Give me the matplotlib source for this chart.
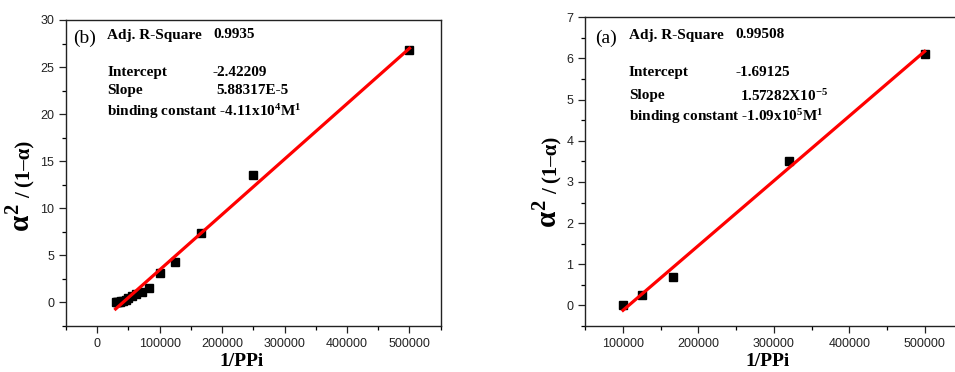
import matplotlib
matplotlib.use("Agg")
import matplotlib.pyplot as plt
import numpy as np

plt.rcParams['mathtext.fontset'] = 'custom'
plt.rcParams['mathtext.rm'] = 'Liberation Serif:bold'
plt.rcParams['mathtext.it'] = 'Liberation Serif:bold'
plt.rcParams['mathtext.bf'] = 'Liberation Serif:bold'

# ---- data: panel (b)
b_x = [500000, 250000, 166667, 125000, 100000, 83333, 71429, 62500, 55556,
       50000, 45455, 41667, 38462, 35714, 33333, 31250, 29412]
b_y = [26.8, 13.5, 7.4, 4.35, 3.1, 1.55, 1.1, 0.9, 0.65,
       0.45, 0.3, 0.2, 0.12, 0.07, 0.04, 0.02, 0.0]
b_intercept = -2.42209
b_slope = 5.88317e-5

# ---- data: panel (a)
a_x = [100000, 125000, 166667, 320000, 500000]
a_y = [0.0, 0.25, 0.7, 3.5, 6.1]
a_intercept = -1.69125
a_slope = 1.57282e-5

b_xticks = [0, 100000, 200000, 300000, 400000, 500000]
b_yticks = [0, 5, 10, 15, 20, 25, 30]
a_xticks = [100000, 200000, 300000, 400000, 500000]
a_yticks = [0, 1, 2, 3, 4, 5, 6, 7]

W, H = 955, 372
fig = plt.figure(figsize=(W / 100, H / 100), dpi=100)

def px(x, y):
    return x / W, 1 - y / H

def style(ax, xticks, yticks, xminor, yminor):
    ax.set_xticks(xticks)
    ax.set_yticks(yticks)
    ax.set_xticks(xminor, minor=True)
    ax.set_yticks(yminor, minor=True)
    ax.tick_params(which='major', direction='out', length=5, width=0.9,
                   labelsize=9, colors='#222222', top=False, right=False)
    ax.tick_params(which='minor', direction='out', length=3, width=0.9,
                   top=False, right=False)
    for lab in ax.get_xticklabels() + ax.get_yticklabels():
        lab.set_fontfamily('Liberation Sans')
    for s in ax.spines.values():
        s.set_linewidth(1.0)
        s.set_color('#222222')

serif = 'Liberation Serif'

# ---------------- Left panel (b)
ax1 = fig.add_axes([66 / W, 46 / H, (440.7 - 66) / W, (326 - 20) / H])
xf = np.array([min(b_x), max(b_x)])
ax1.plot(xf, b_intercept + b_slope * xf, color='#ff0000', lw=2.3, zorder=3)
ax1.plot(b_x, b_y, 's', color='black', ms=5.5, zorder=2)
ax1.set_xlim(-50000, 550000)
ax1.set_ylim(-2.5, 30)
style(ax1, b_xticks, b_yticks,
      np.arange(-50000, 550001, 50000), np.arange(-2.5, 30.01, 2.5))

# ---------------- Right panel (a)
ax2 = fig.add_axes([585.3 / W, 46 / H, (962.4 - 585.3) / W, (326 - 17.3) / H])
xf = np.array([min(a_x), max(a_x)])
ax2.plot(xf, a_intercept + a_slope * xf, color='#ff0000', lw=2.3, zorder=3)
ax2.plot(a_x, a_y, 's', color='black', ms=5.5, zorder=2)
ax2.set_xlim(50000, 550000)
ax2.set_ylim(-0.5, 7)
style(ax2, a_xticks, a_yticks,
      np.arange(50000, 550001, 50000), np.arange(-0.5, 7.01, 0.5))

# ---------------- annotations
fs = 11
def ann(x, y, s, **kw):
    d = dict(fontsize=fs, fontfamily=serif, fontweight='bold', va='center', ha='left')
    d.update(kw)
    fig.text(*px(x, y), s, **d)

ann(72.7, 38, '(b)', fontsize=14, fontweight='normal')
ann(107.3, 35, 'Adj. R-Square')
ann(213.3, 35, '0.9935')
ann(107.3, 72.7, 'Intercept')
ann(212.7, 72.7, '-2.42209')
ann(107.3, 90.7, 'Slope')
ann(216.7, 90.7, '5.88317E-5')
ann(107.3, 111.7, 'binding constant -4.11x10$^{4}$M$^{1}$')

ann(595, 38, '(a)', fontsize=14, fontweight='normal')
ann(629, 35, 'Adj. R-Square')
ann(735, 35, '0.99508')
ann(629, 72.7, 'Intercept')
ann(735, 72.7, '-1.69125')
ann(629, 96, 'Slope')
ann(740, 96, '1.57282X10$^{-5}$')
ann(629, 116.7, 'binding constant -1.09x10$^{5}$M$^{1}$')

# ---------------- axis labels
for cx in (242, 768):
    fig.text(*px(cx, 362), '1/PPi', fontsize=14, fontfamily=serif,
             fontweight='bold', ha='center', va='center')

for (lx, ybot) in ((22, 232), (549, 228)):
    fig.text(*px(lx, ybot), r'$\alpha^{2}$', fontsize=21, rotation=90,
             ha='center', va='bottom')
    fig.text(*px(lx + 4, ybot - 34), '/ (1\u2013\u03b1)', fontsize=15,
             fontfamily=serif, fontweight='bold', rotation=90,
             ha='center', va='bottom')

fig.savefig('out.png', dpi=100)
